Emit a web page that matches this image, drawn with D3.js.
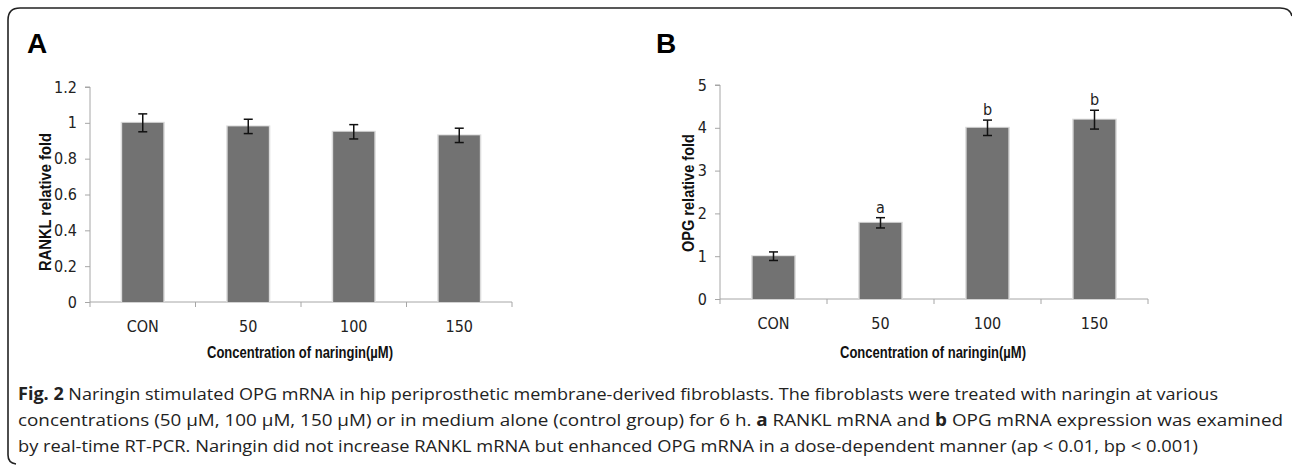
<!DOCTYPE html>
<html><head><meta charset="utf-8">
<script src="https://cdn.jsdelivr.net/npm/d3@7"></script>
<style>body{margin:0;background:#fff}svg{display:block}</style>
</head><body>
<svg id="c" width="1292" height="465"></svg>
<script>
const categories = ["CON", "50", "100", "150"];
const rankl = [1.0, 0.98, 0.95, 0.93];
const ranklErr = [0.05, 0.04, 0.04, 0.04];
const opg = [1.0, 1.78, 4.0, 4.19];
const opgErr = [0.1, 0.12, 0.18, 0.22];
const opgSig = ["", "a", "b", "b"];
const ranklTicks = [0, 0.2, 0.4, 0.6, 0.8, 1, 1.2];
const opgTicks = [0, 1, 2, 3, 4, 5];
const captionLines = [
  ["Fig. 2", " Naringin stimulated OPG mRNA in hip periprosthetic membrane-derived fibroblasts. The fibroblasts were treated with naringin at various"],
  ["", "concentrations (50 µM, 100 µM, 150 µM) or in medium alone (control group) for 6 h. ", "a", " RANKL mRNA and ", "b", " OPG mRNA expression was examined"],
  ["", "by real-time RT-PCR. Naringin did not increase RANKL mRNA but enhanced OPG mRNA in a dose-dependent manner (ap < 0.01, bp < 0.001)"]
];

const svg = d3.select("#c");
const tickFont = "'Liberation Sans Narrow','DejaVu Sans Condensed','Open Sans',sans-serif";
const capFont = "'Open Sans',sans-serif";
const boldFont = "'Liberation Sans',Arial,sans-serif";

// frame
svg.append("path")
  .attr("d", "M8,455 L8,20 Q8,8 20,8 L1280,8 Q1290,8 1292,16 M8,455 Q8,463 16,464")
  .attr("fill", "none").attr("stroke", "#222").attr("stroke-width", 1.6);

function panel(opt) {
  const g = svg.append("g");
  const x = d3.scaleBand().domain(categories).range([opt.x0, opt.x1]).paddingInner(0.61).paddingOuter(0.305);
  const xb = d3.scaleBand().domain(categories).range([opt.x0, opt.x1]);
  const y = d3.scaleLinear().domain([0, opt.max]).range([opt.y0, opt.y1]);

  g.append("text").attr("x", opt.lx).attr("y", 53).text(opt.letter)
    .attr("font-family", boldFont).attr("font-weight", "bold").attr("font-size", 28);

  const ya = g.append("g").attr("transform", `translate(${opt.x0},0)`)
    .call(d3.axisLeft(y).tickValues(opt.ticks).tickSize(5).tickPadding(8).tickFormat(d3.format("~g")));
  ya.selectAll("path,line").attr("stroke", "#a6a6a6");
  ya.select(".domain").attr("d", `M-5,${opt.y1}H0V${opt.y0}`);
  ya.selectAll("text").attr("font-family", tickFont).attr("font-size", 16).attr("fill", "#222");

  const xa = g.append("g").attr("transform", `translate(0,${opt.y0})`);
  xa.append("path").attr("d", `M${opt.x0},0H${opt.x1}`).attr("stroke", "#a6a6a6");
  xa.selectAll("line").data(categories.concat(["end"])).join("line")
    .attr("x1", (d, i) => i < categories.length ? xb(d) : opt.x1)
    .attr("x2", (d, i) => i < categories.length ? xb(d) : opt.x1)
    .attr("y1", 0).attr("y2", 5).attr("stroke", "#a6a6a6");
  xa.selectAll("text").data(categories).join("text")
    .attr("x", d => xb(d) + xb.bandwidth() / 2).attr("y", 30)
    .attr("text-anchor", "middle").attr("font-family", tickFont).attr("font-size", 16).attr("fill", "#222")
    .text(d => d);

  g.selectAll(".sh").data(opt.values).join("rect")
    .attr("x", (d, i) => x(categories[i]) - 1.5).attr("width", x.bandwidth() + 3)
    .attr("y", d => y(d) - 1).attr("height", d => opt.y0 - y(d) + 1)
    .attr("fill", "#dcdcdc");
  g.selectAll(".bar").data(opt.values).join("rect")
    .attr("x", (d, i) => x(categories[i])).attr("width", x.bandwidth())
    .attr("y", d => y(d)).attr("height", d => opt.y0 - y(d))
    .attr("fill", "#727272");

  const eg = g.append("g").attr("stroke", "#111").attr("stroke-width", 1.5);
  opt.values.forEach((v, i) => {
    const cx = x(categories[i]) + x.bandwidth() / 2;
    const t = y(v + opt.err[i]), b = y(v - opt.err[i]);
    eg.append("line").attr("x1", cx).attr("x2", cx).attr("y1", t).attr("y2", b);
    eg.append("line").attr("x1", cx - 4.5).attr("x2", cx + 4.5).attr("y1", t).attr("y2", t);
    eg.append("line").attr("x1", cx - 4.5).attr("x2", cx + 4.5).attr("y1", b).attr("y2", b);
    if (opt.sig && opt.sig[i]) {
      g.append("text").attr("x", cx).attr("y", t - 5).attr("text-anchor", "middle")
        .attr("font-family", tickFont).attr("font-size", 16).attr("fill", "#222").text(opt.sig[i]);
    }
  });

  g.append("text").attr("transform", `translate(${opt.ylx},${opt.ylc}) rotate(-90)`)
    .attr("text-anchor", "middle").attr("font-family", boldFont).attr("font-weight", "bold")
    .attr("font-size", 17).attr("fill", "#111")
    .attr("textLength", opt.yll).attr("lengthAdjust", "spacingAndGlyphs").text(opt.ylabel);
  g.append("text").attr("x", opt.xtc).attr("y", opt.xty)
    .attr("text-anchor", "middle").attr("font-family", boldFont).attr("font-weight", "bold")
    .attr("font-size", 17).attr("fill", "#111")
    .attr("textLength", 186).attr("lengthAdjust", "spacingAndGlyphs").text("Concentration of naringin(µM)");
}

panel({letter: "A", lx: 27, x0: 90, x1: 512, y0: 302, y1: 87, max: 1.2, ticks: ranklTicks,
  values: rankl, err: ranklErr, ylabel: "RANKL relative fold", ylx: 51, ylc: 202, yll: 138, xtc: 300, xty: 358});
panel({letter: "B", lx: 656, x0: 720, x1: 1148, y0: 299, y1: 85, max: 5, ticks: opgTicks,
  values: opg, err: opgErr, sig: opgSig, ylabel: "OPG relative fold", ylx: 694, ylc: 193, yll: 118, xtc: 933, xty: 358});

const capY = [400, 426, 452];
const capLen = [1200, 1265, 1180];
captionLines.forEach((parts, li) => {
  const t = svg.append("text").attr("x", 18).attr("y", capY[li])
    .attr("font-family", capFont).attr("font-size", 17).attr("fill", "#222")
    .attr("textLength", capLen[li]).attr("lengthAdjust", "spacingAndGlyphs");
  parts.forEach((p, pi) => {
    if (!p) return;
    const bold = (li === 0 && pi === 0) || (li === 1 && (pi === 2 || pi === 4));
    t.append("tspan").attr("font-weight", bold ? "bold" : "normal").text(p);
  });
});
</script>
</body></html>
